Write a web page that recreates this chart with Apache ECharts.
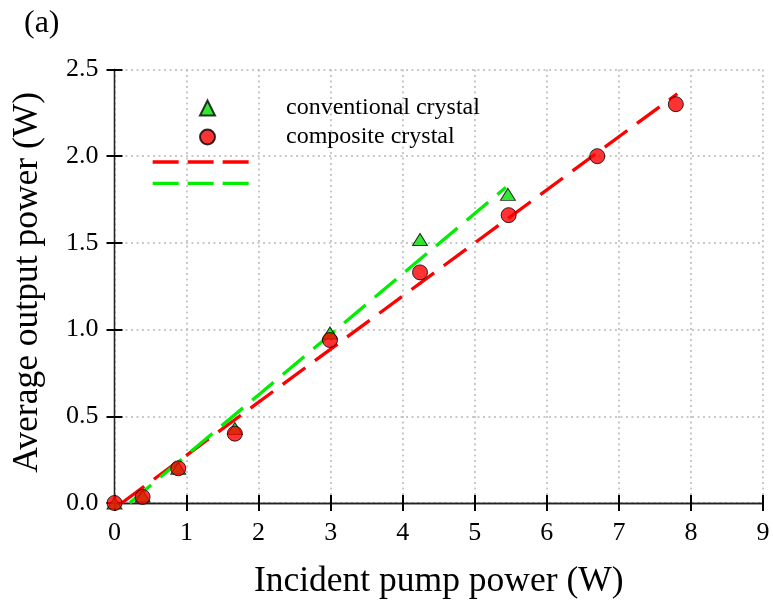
<!DOCTYPE html>
<html>
<head>
<meta charset="utf-8">
<script src="https://cdn.jsdelivr.net/npm/echarts@6/dist/echarts.min.js"></script>
<style>html,body{margin:0;padding:0;background:#fff}#c{width:773px;height:608px}</style>
</head>
<body>
<div id="c"></div>
<script>
// ---- data ----
const conventional = [[0, 0], [0.39, 0.04], [0.885, 0.2], [1.67, 0.43], [2.99, 0.98], [4.24, 1.52], [5.46, 1.78]];
const composite = [[0, 0], [0.39, 0.035], [0.885, 0.2], [1.67, 0.40], [2.99, 0.94], [4.24, 1.33], [5.47, 1.66], [6.70, 2.0], [7.79, 2.30]];
const compositeFit = [[0.1, 0], [7.81, 2.36]];
const conventionalFit = [[0.21, 0], [5.43, 1.82]];
const xTicks = [0, 1, 2, 3, 4, 5, 6, 7, 8, 9];
const yTicks = ['0.0', '0.5', '1.0', '1.5', '2.0', '2.5'];
const labels = { x: 'Incident pump power (W)', y: 'Average output power (W)', panel: '(a)',
  conv: 'conventional crystal', comp: 'composite crystal' };

const FONT = "'Liberation Serif','Times New Roman',serif";
const chart = echarts.init(document.getElementById('c'), null, { renderer: 'canvas' });
const gridStyle = { show: true, lineStyle: { color: '#b8b8b8', width: 1.5, type: [2, 3.5] } };
const axLine = { show: true, lineStyle: { color: '#222', width: 1.3 } };
const tick = { show: true, inside: true, length: 8, lineStyle: { color: '#000', width: 2 } };
const dash = [28, 12];

chart.setOption({
  animation: false,
  grid: { left: 114.5, right: 10, top: 69.5, bottom: 105 },
  graphic: [{ type: 'text', left: 24, top: 8, style: { text: labels.panel, font: '32px ' + FONT, fill: '#000' } }],
  legend: [
    { data: [labels.conv, labels.comp], orient: 'vertical', left: 194, top: 91, padding: 5, itemWidth: 15, itemHeight: 15, itemGap: 5,
      textStyle: { fontFamily: FONT, fontSize: 24, lineHeight: 24, color: '#000', padding: [0, 0, 0, 66] } },
    { data: ['fitComp', 'fitConv'], orient: 'vertical', left: 146, top: 149, padding: 5, itemWidth: 102, itemHeight: 16, itemGap: 7,
      itemStyle: { opacity: 0, borderWidth: 0 }, lineStyle: { width: 3.3, type: [26, 9] },
      formatter: () => '', textStyle: { fontSize: 1 } }
  ],
  xAxis: [
    { type: 'value', min: 0, max: 9, interval: 1, name: labels.x, nameLocation: 'middle', nameGap: 61,
      nameTextStyle: { fontFamily: FONT, fontSize: 35.5, color: '#000' },
      axisLine: axLine, axisTick: tick, splitLine: gridStyle,
      axisLabel: { fontFamily: FONT, fontSize: 26, color: '#000', margin: 17, formatter: v => String(xTicks[Math.round(v)]) } },
    { type: 'value', position: 'top', min: 0, max: 9, interval: 1, axisLine: axLine, axisTick: tick,
      axisLabel: { show: false }, splitLine: { show: false } }
  ],
  yAxis: [
    { type: 'value', min: 0, max: 2.5, interval: 0.5, name: labels.y, nameLocation: 'middle', nameGap: 69,
      nameTextStyle: { fontFamily: FONT, fontSize: 35.5, color: '#000', padding: [0, 0, 0, 8] },
      axisLine: axLine, axisTick: tick, splitLine: gridStyle,
      axisLabel: { fontFamily: FONT, fontSize: 26, color: '#000', margin: 16, formatter: v => yTicks[Math.round(v * 2)] } },
    { type: 'value', position: 'right', min: 0, max: 2.5, interval: 0.5, axisLine: axLine, axisTick: tick,
      axisLabel: { show: false }, splitLine: { show: false } }
  ],
  series: [
    { name: 'fitComp', type: 'line', data: compositeFit, showSymbol: false, symbol: 'none', z: 3,
      lineStyle: { color: '#ff0000', width: 3.3, type: dash }, itemStyle: { color: '#ff0000' } },
    { name: 'fitConv', type: 'line', data: conventionalFit, showSymbol: false, symbol: 'none', z: 3,
      lineStyle: { color: '#00ee00', width: 3.3, type: dash }, itemStyle: { color: '#00ee00' } },
    { name: labels.conv, type: 'scatter', data: conventional, symbol: 'triangle', symbolSize: [15, 12], z: 4,
      itemStyle: { color: '#00e000', borderColor: '#000', borderWidth: 1 } },
    { name: labels.comp, type: 'scatter', data: composite, symbol: 'circle', symbolSize: 15, z: 5,
      itemStyle: { color: '#ff0000', borderColor: '#000', borderWidth: 1 } }
  ]
});
</script>
</body>
</html>
